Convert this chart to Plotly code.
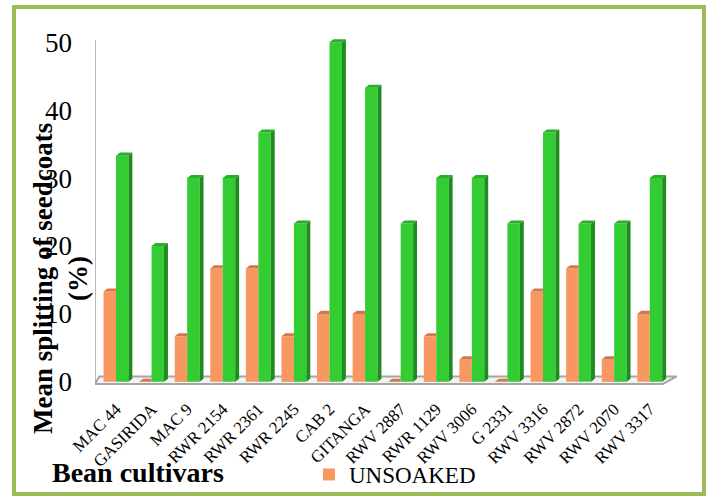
import plotly.graph_objects as go

# Cultivars and mean seedcoat splitting (%)
cultivars = ["MAC 44", "GASIRIDA", "MAC 9", "RWR 2154", "RWR 2361", "RWR 2245",
             "CAB 2", "GITANGA", "RWV 2887", "RWR 1129", "RWV 3006", "G 2331",
             "RWV 3316", "RWV 2872", "RWV 2070", "RWV 3317"]
unsoaked = [13.3, 0, 6.7, 16.7, 16.7, 6.7, 10, 10, 0, 6.7, 3.3, 0, 13.3, 16.7, 3.3, 10]
soaked = [33.3, 20, 30, 30, 36.7, 23.3, 50, 43.3, 23.3, 30, 30, 23.3, 36.7, 23.3, 23.3, 30]
y_ticks = [0, 10, 20, 30, 40, 50]

idx = list(range(len(cultivars)))

# bar geometry (category units / value units) for the pseudo-3D look
W = 0.35      # width of each front face
DX = 0.11     # depth shift to the right
DY = 0.45     # depth shift upwards

ORANGE, ORANGE_TOP = "#F8975F", "#D4774B"
GREEN, GREEN_SIDE, GREEN_TOP = "#33CC33", "#1F8C1F", "#2AAE2A"

fig = go.Figure()

fig.add_trace(go.Bar(x=idx, y=unsoaked, width=W, offset=-W, name="UNSOAKED",
                     marker=dict(color=ORANGE, line=dict(width=0))))
fig.add_trace(go.Bar(x=idx, y=soaked, width=W, offset=0, name="SOAKED", showlegend=False,
                     marker=dict(color=GREEN, line=dict(width=0))))


def polys(builder, values):
    xs, ys = [], []
    for i, v in zip(idx, values):
        px, py = builder(i, v)
        xs += px + [px[0], None]
        ys += py + [py[0], None]
    return xs, ys


# orange top caps (the part to the right is hidden behind the green bar)
ox, oy = polys(lambda i, v: ([i - W, i, i, i - W + DX], [v, v, v + DY, v + DY]), unsoaked)
fig.add_trace(go.Scatter(x=ox, y=oy, fill="toself", fillcolor=ORANGE_TOP, mode="lines",
                         line=dict(width=0, color=ORANGE_TOP), showlegend=False, hoverinfo="skip"))

# green side faces
gx, gy = polys(lambda i, v: ([i + W, i + W + DX, i + W + DX, i + W], [0, DY, v + DY, v]), soaked)
fig.add_trace(go.Scatter(x=gx, y=gy, fill="toself", fillcolor=GREEN_SIDE, mode="lines",
                         line=dict(width=0, color=GREEN_SIDE), showlegend=False, hoverinfo="skip"))

# green top caps
tx, ty = polys(lambda i, v: ([i, i + W, i + W + DX, i + DX], [v, v, v + DY, v + DY]), soaked)
fig.add_trace(go.Scatter(x=tx, y=ty, fill="toself", fillcolor=GREEN_TOP, mode="lines",
                         line=dict(width=0, color=GREEN_TOP), showlegend=False, hoverinfo="skip"))

X0, X1 = -0.59, 15.85
Y0, Y1 = -1.2, 51.5
L, B, T = 95, 107, 32
PW = 709 - L - 29
PH = 497 - T - B


def px_x(p):
    return (p - L) / PW


def px_y(p):
    return (497 - B - p) / PH


shapes = [
    # floor
    dict(type="path", xref="x", yref="y", layer="below",
         path=f"M {X0},-0.3 L 15.37,-0.3 L 15.76,0.8 L {X0 + 0.12},0.8 Z",
         fillcolor="#F2F2F2", line=dict(color="#A6A6A6", width=2)),
    # value axis line
    dict(type="line", xref="x", yref="y", layer="below", x0=X0, x1=X0, y0=-0.3, y1=50.3,
         line=dict(color="#A0A0A0", width=1.5)),
    # outer frame
    dict(type="rect", xref="paper", yref="paper",
         x0=px_x(14), x1=px_x(704), y0=px_y(494), y1=px_y(7),
         line=dict(color="#9BBB59", width=4), fillcolor="rgba(0,0,0,0)"),
]

fig.update_layout(
    width=709, height=497,
    margin=dict(l=L, r=29, t=T, b=B, autoexpand=False),
    paper_bgcolor="white", plot_bgcolor="white",
    barmode="overlay",
    showlegend=True,
    legend=dict(x=px_x(309), y=px_y(453), xanchor="left", yanchor="top",
                font=dict(family="Liberation Serif", size=23, color="#000"),
                bgcolor="rgba(0,0,0,0)", itemsizing="constant"),
    xaxis=dict(range=[X0, X1], tickmode="array", tickvals=idx, ticktext=cultivars,
               tickangle=-45, showgrid=False, zeroline=False, showline=False, ticks="",
               automargin=False, ticklabelstandoff=5,
               tickfont=dict(family="Liberation Serif", size=17, color="#000")),
    yaxis=dict(range=[Y0, Y1], tickmode="array", tickvals=y_ticks,
               showgrid=False, zeroline=False, showline=False, ticks="",
               automargin=False, ticklabelstandoff=22,
               tickfont=dict(family="Liberation Serif", size=27, color="#000")),
    shapes=shapes,
    annotations=[
        dict(text="<b>Mean splitting of seedcoats<br>(%)</b>", textangle=-90,
             xref="paper", yref="paper", x=px_x(60), y=px_y(279),
             xanchor="center", yanchor="middle", showarrow=False,
             font=dict(family="Liberation Serif", size=27, color="#000")),
        dict(text="<b>Bean cultivars</b>", xref="paper", yref="paper",
             x=px_x(50), y=px_y(472), xanchor="left", yanchor="middle", showarrow=False,
             font=dict(family="Liberation Serif", size=28, color="#000")),
    ],
)

fig.write_html("out.html")
